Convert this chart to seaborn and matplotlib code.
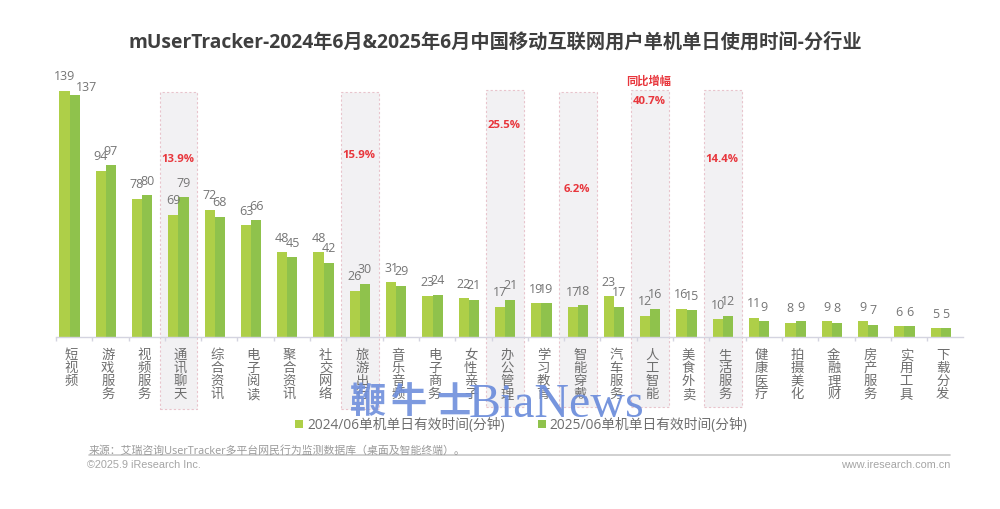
import matplotlib
matplotlib.use("Agg")
import matplotlib.pyplot as plt
from matplotlib.patches import Rectangle
from matplotlib.transforms import ScaledTranslation
import pandas as pd
import seaborn as sns

categories = ["短视频", "游戏服务", "视频服务", "通讯聊天", "综合资讯", "电子阅读", "聚合资讯", "社交网络",
              "旅游出行", "音乐音频", "电子商务", "女性亲子", "办公管理", "学习教育", "智能穿戴", "汽车服务",
              "人工智能", "美食外卖", "生活服务", "健康医疗", "拍摄美化", "金融理财", "房产服务", "实用工具", "下载分发"]
values_2024 = [139, 94, 78, 69, 72, 63, 48, 48, 26, 31, 23, 22, 17, 19, 17, 23, 12, 16, 10, 11, 8, 9, 9, 6, 5]
values_2025 = [137, 97, 80, 79, 68, 66, 45, 42, 30, 29, 24, 21, 21, 19, 18, 17, 16, 15, 12, 9, 9, 8, 7, 6, 5]
series_names = ["2024/06单机单日有效时间(分钟)", "2025/06单机单日有效时间(分钟)"]
highlight_cats = ["通讯聊天", "旅游出行", "办公管理", "智能穿戴", "人工智能", "生活服务"]
highlight_text = ["13.9%", "15.9%", "25.5%", "6.2%", "40.7%", "14.4%"]
highlight_text_y = [159, 156, 126, 189, 102, 160]   # pixel rows of the percentages
highlight_top = [93, 93, 91, 93, 91, 91]
highlight_bottom = [410, 410, 408, 408, 408, 408]

W, H = 1000, 510
sns.set_theme(style="white")
FONT = ["Open Sans", "Noto Sans CJK SC", "DejaVu Sans"]
plt.rcParams["font.family"] = FONT

fig = plt.figure(figsize=(W / 100, H / 100), dpi=100, facecolor="white")
AX_L, AX_R, AX_T, AX_B = 56, 963, 60, 338
ax = fig.add_axes([AX_L / W, 1 - AX_B / H, (AX_R - AX_L) / W, (AX_B - AX_T) / H])
ax.patch.set_alpha(0)
PX_UNIT_X, PX_UNIT_Y = 36.3, 1.77
X0 = 69.5
ax.set_xlim((AX_L - X0) / PX_UNIT_X, (AX_R - X0) / PX_UNIT_X)
ylim_top = (AX_B - AX_T) / PX_UNIT_Y
ax.set_ylim(0, ylim_top)

def px_to_y(py):
    return (AX_B - py) / PX_UNIT_Y

# highlight boxes behind the bars
for cat, top, bottom in zip(highlight_cats, highlight_top, highlight_bottom):
    i = categories.index(cat)
    ax.add_patch(Rectangle((i - 0.52, px_to_y(bottom)), 1.04, px_to_y(top) - px_to_y(bottom),
                           facecolor="#f2f1f3", edgecolor="#e8c4cc", linewidth=0.8,
                           linestyle=(0, (2, 2)), clip_on=False, zorder=0))

df = pd.DataFrame({"cat": categories * 2,
                   "value": values_2024 + values_2025,
                   "series": [series_names[0]] * 25 + [series_names[1]] * 25})
COLORS = ["#aecf48", "#8fc24c"]
sns.barplot(data=df, x="cat", y="value", hue="series", order=categories, hue_order=series_names,
            palette=COLORS, width=0.56, gap=0, saturation=1, legend=False, ax=ax, zorder=2,
            edgecolor="none", linewidth=0)
ax.set_xlim((AX_L - X0) / PX_UNIT_X, (AX_R - X0) / PX_UNIT_X)
ax.set_ylim(0, ylim_top)
ax.set_xlabel("")
ax.set_ylabel("")
ax.set_yticks([])

for s in ["top", "left", "right"]:
    ax.spines[s].set_visible(False)
ax.spines["bottom"].set_color("#d4d4e0")
ax.spines["bottom"].set_linewidth(1)

# vertical category labels
ax.set_xticks(range(len(categories)))
ax.set_xticklabels(["\n".join(c) for c in categories], fontsize=9.6, color="#6e6e6e",
                   linespacing=1.0, va="top")
ax.tick_params(axis="x", which="major", length=0, pad=8)
shift = ScaledTranslation(2.0 / 100, 0, fig.dpi_scale_trans)
for lab in ax.get_xticklabels():
    lab.set_transform(lab.get_transform() + shift)
ax.set_xticks([i - 0.372 for i in range(len(categories))], minor=True)
ax.tick_params(axis="x", which="minor", length=3, width=1, color="#d4d4e0", bottom=True)

# value labels
bar_dx = 0.14
for i, (a, b) in enumerate(zip(values_2024, values_2025)):
    ax.annotate(str(a), (i - bar_dx, a), xytext=(0, 15 * 0.72), textcoords="offset points",
                ha="center", va="center", fontsize=9.0, color="#757575", zorder=5, annotation_clip=False)
    # the first 2025 label sits to the side of its bar in the reference
    off = (12 * 0.72, 8 * 0.72) if i == 0 else (0, 15 * 0.72)
    ax.annotate(str(b), (i + bar_dx, b), xytext=off, textcoords="offset points",
                ha="center", va="center", fontsize=9.0, color="#757575", zorder=5, annotation_clip=False)

def ptext(x, y, s, **kw):
    return fig.text(x / W, 1 - y / H, s, **kw)

# highlight percentages
for cat, txt, y in zip(highlight_cats, highlight_text, highlight_text_y):
    i = categories.index(cat)
    ptext(X0 + i * PX_UNIT_X - 1, y, txt, ha="center", va="center", fontsize=8.2,
          fontweight="bold", color="#e8363c")
ptext(649, 82, "同比增幅", ha="center", va="center", fontsize=8.1, color="#e8363c", fontweight="bold")

# title
ptext(495.5, 43, "mUserTracker-2024年6月&2025年6月中国移动互联网用户单机单日使用时间-分行业",
      ha="center", va="center", fontsize=13.85, fontweight="bold", color="#3f3f3f")

# legend
for sq_x, txt_x, col, name in zip([299, 542], [307, 549], COLORS, series_names):
    fig.patches.append(Rectangle(((sq_x - 4) / W, 1 - 429 / H), 8 / W, 8 / H, transform=fig.transFigure,
                                 facecolor=col, edgecolor="none"))
    ptext(txt_x, 425.5, name, ha="left", va="center", fontsize=9.9, color="#6e6e6e")

# footer
ptext(89, 451, "来源：艾瑞咨询UserTracker多平台网民行为监测数据库（桌面及智能终端）。",
      ha="left", va="center", fontsize=7.8, color="#9a9a9a")
fig.add_artist(plt.Line2D([89 / W, 950 / W], [1 - 456 / H] * 2, color="#c8c8c8", linewidth=1.2))
ptext(87, 465.5, "©2025.9 iResearch Inc.", ha="left", va="center", fontsize=7.8, color="#a5a5a5",
      family=["Liberation Sans"])
ptext(950, 465.5, "www.iresearch.com.cn", ha="right", va="center", fontsize=7.85, color="#a5a5a5",
      family=["Liberation Sans"])

# watermark
for wm_x, ch in zip([350, 391, 436], "鞭牛士"):
    ptext(wm_x, 403, ch, ha="left", va="center", fontsize=26, fontweight="bold", color="#6f8fdc",
          family=["Noto Sans CJK SC"], alpha=0.9, zorder=10)
ptext(469, 405, "BiaNews", ha="left", va="center", fontsize=34.5, color="#6f8fdc",
      family=["Liberation Serif"], alpha=0.95, zorder=10)

fig.savefig("out.png", dpi=100, facecolor="white")
